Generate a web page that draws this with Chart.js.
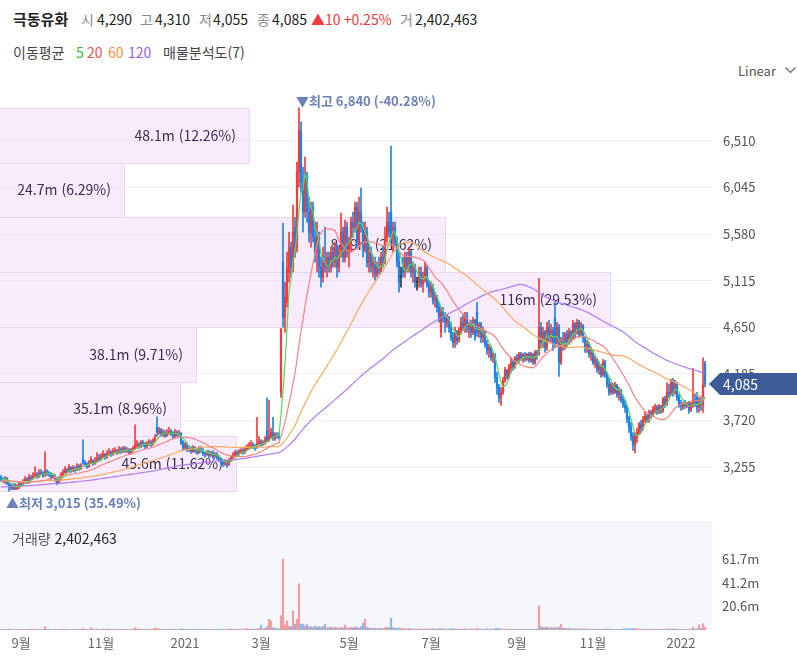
<!DOCTYPE html>
<html lang="ko">
<head>
<meta charset="utf-8">
<title>극동유화 일봉</title>
<script src="https://cdn.jsdelivr.net/npm/chart.js@4.4.1/dist/chart.umd.min.js"></script>
<style>
  html, body { margin: 0; padding: 0; background: #fff; }
  body { position: relative; width: 797px; height: 657px; overflow: hidden;
         font-family: "Noto Sans CJK KR", "Noto Sans", sans-serif; color: #222; }
  canvas { position: absolute; left: 0; }
  .hdr { position: absolute; left: 0; height: 20px; width: 797px; font-size: 14px; line-height: 20px; white-space: nowrap; }
  .hdr span { position: absolute; top: 0; }
  .k { color: #8a8a8a; }
</style>
</head>
<body>
<canvas id="priceChart" width="797" height="428" style="top:90px"></canvas>
<canvas id="volChart" width="797" height="136" style="top:521px"></canvas>

<div class="hdr" style="top:9px">
  <span style="left:13px;font-weight:700;font-size:15px">극동유화</span>
  <span class="k" style="left:81px">시</span><span id="qO" style="left:97px"></span>
  <span class="k" style="left:140px">고</span><span id="qH" style="left:155px"></span>
  <span class="k" style="left:199px">저</span><span id="qL" style="left:213px"></span>
  <span class="k" style="left:257px">종</span><span id="qC" style="left:272px"></span>
  <span id="qChg" style="left:311px;color:#f03c3c"></span>
  <span class="k" style="left:400px">거</span><span id="qV" style="left:415px"></span>
</div>
<div class="hdr" style="top:42px;color:#444">
  <span style="left:13px">이동평균</span>
  <span style="left:76px;color:#3cb83c">5</span>
  <span style="left:87px;color:#f05050">20</span>
  <span style="left:108px;color:#f0903c">60</span>
  <span style="left:128px;color:#9a5cf0">120</span>
  <span style="left:163px">매물분석도(7)</span>
</div>
<div style="position:absolute;left:738px;top:61px;font-size:13px;color:#555;line-height:20px">Linear
  <svg width="11" height="7" style="margin-left:5px;vertical-align:2px"><polyline points="0.5,0.5 5.5,5.5 10.5,0.5" fill="none" stroke="#666" stroke-width="1.2"/></svg>
</div>
<div style="position:absolute;left:12px;top:528px;font-size:14px;line-height:20px">
  <span style="color:#555">거래량</span> <span id="volNow"></span>
</div>

<script>
// 극동유화 일봉 (2020.08 ~ 2022.01), 가격 단위 원, 거래량 단위 백만주

// 차트 시작 이전 종가 (이동평균 계산용)
const prevCloses = [
  2950,2960,2940,2970,2980,2960,2990,3000,2980,2970,
  2950,2960,2980,2990,3010,3000,2990,2970,2960,2980,
  3000,3010,2990,2980,2970,2990,3000,3020,3010,2990,
  2980,2970,2960,2980,2990,3000,3010,3020,3000,2990,
  2980,3000,3010,3020,3030,3010,3000,2990,3000,3010,
  3020,3040,3030,3020,3010,3030,3040,3060,3050,
  3070,3090,3080,3100,3120,3110,3090,3100,3130,3120,
  3110,3100,3090,3110,3130,3140,3120,3110,3100,3090,
  3100,3120,3110,3130,3140,3120,3100,3090,3080,3100,
  3110,3120,3130,3110,3100,3090,3110,3120,3140,3130,
  3120,3110,3100,3090,3110,3120,3130,3110,3100,3120,
  3130,3140,3120,3110,3100,3120,3140,3130,3150,3140
];

const opens = [
  3150,3130,3100,3140,3090,3070,3040,3080,3040,3050,
  3090,3080,3100,3130,3100,3150,3140,3170,3180,3160,
  3200,3190,3170,3210,3200,3180,3150,3170,3130,3100,
  3140,3180,3200,3230,3210,3250,3220,3240,3230,3260,
  3240,3330,3300,3280,3260,3300,3320,3290,3310,3340,
  3330,3360,3380,3350,3390,3400,3380,3410,3420,3400,
  3430,3410,3440,3420,3430,3400,3420,3440,3470,3480,
  3470,3500,3480,3460,3490,3500,3480,3510,3650,3600,
  3620,3580,3600,3570,3600,3610,3590,3560,3600,3580,
  3590,3500,3450,3480,3430,3440,3410,3450,3420,3400,
  3440,3420,3390,3380,3400,3370,3390,3360,3380,3350,
  3330,3300,3290,3310,3280,3320,3350,3370,3400,3380,
  3410,3420,3400,3430,3450,3460,3480,3470,3450,3490,
  3510,3480,3500,3620,3520,3560,3600,3540,3580,3570,
  4000,5300,4750,4900,5200,5450,5250,5650,5450,6200,
  6600,6100,5800,6150,5800,5600,5850,5550,5400,5550,
  5250,5150,5300,5250,5350,5250,5400,5300,5450,5250,
  5400,5600,5350,5650,5400,5500,5700,5650,5850,5500,
  5800,5650,5450,5600,5300,5400,5250,5300,5180,5250,
  5220,5350,5300,5550,5700,5800,5550,5650,5500,5300,
  5150,5250,5200,5350,5250,5400,5200,5250,5100,5100,
  5200,5080,5150,5250,5080,5000,5050,4920,4950,4850,
  4600,4800,4750,4700,4750,4650,4550,4500,4600,4520,
  4620,4700,4650,4760,4640,4680,4600,4720,4800,4600,
  4680,4550,4600,4480,4420,4450,4350,4380,4150,4050,
  3950,4000,4120,4220,4150,4250,4300,4250,4340,4320,
  4380,4340,4370,4330,4380,4320,4380,4300,4400,4380,
  4650,4500,4600,4450,4650,4550,4620,4750,4500,4650,
  4300,4500,4450,4580,4500,4600,4550,4680,4600,4700,
  4580,4660,4540,4440,4480,4380,4400,4300,4330,4230,
  4260,4180,4300,4180,4080,4000,4080,4000,4070,3980,
  4020,3930,3880,3850,3740,3650,3560,3480,3560,3600,
  3680,3640,3730,3760,3720,3800,3770,3830,3850,3800,
  3860,3820,3930,3880,4000,3980,4100,4000,4080,3950,
  3880,3860,3880,3870,3890,3820,3870,3920,3950,3850,
  3900,3880,4290
];

const highs = [
  3170,3150,3160,3150,3100,3080,3090,3090,3080,3110,
  3110,3130,3160,3150,3180,3170,3200,3260,3200,3230,
  3230,3210,3406,3230,3210,3200,3190,3180,3150,3160,
  3200,3230,3260,3240,3280,3260,3270,3260,3290,3280,
  3290,3526,3320,3300,3320,3360,3330,3350,3400,3380,
  3390,3420,3390,3420,3440,3420,3440,3450,3430,3460,
  3450,3460,3460,3450,3440,3440,3460,3676,3520,3500,
  3520,3520,3500,3510,3530,3520,3540,3580,3756,3650,
  3640,3630,3620,3630,3650,3630,3610,3630,3620,3620,
  3600,3520,3500,3500,3470,3460,3470,3460,3440,3460,
  3460,3440,3410,3420,3420,3410,3420,3400,3400,3370,
  3350,3320,3330,3320,3340,3370,3400,3420,3420,3430,
  3440,3440,3460,3480,3500,3520,3500,3480,3750,3560,
  3530,3520,3560,3945,3920,3640,3750,3600,3600,3600,
  4640,5690,5100,5400,5600,5500,5870,5750,6300,6840,
  6700,6250,6350,6200,5950,5900,5900,5700,5700,5600,
  5350,5450,5650,5400,5400,5450,5450,5500,5480,5450,
  5790,5650,5720,5700,5550,5750,5800,5900,5900,5950,
  6040,5700,5700,5650,5450,5450,5350,5350,5300,5350,
  5400,5450,5650,5850,5800,6460,5700,5700,5550,5400,
  5250,5350,5400,5400,5450,5420,5300,5280,5150,5250,
  5250,5200,5300,5270,5120,5100,5080,5000,4970,4900,
  4850,4850,4800,4780,4760,4700,4600,4650,4620,4650,
  4750,4780,4800,4800,4700,4720,4750,4730,4900,4700,
  4700,4650,4620,4520,4480,4460,4400,4390,4200,4080,
  4050,4150,4250,4230,4280,4350,4320,4360,4380,4400,
  4400,4390,4400,4390,4400,4400,4390,4420,4420,5140,
  4700,4650,4620,4700,4720,4680,4650,4900,4700,4680,
  4550,4600,4600,4620,4640,4620,4720,4700,4730,4720,
  4700,4680,4560,4520,4500,4450,4420,4360,4340,4300,
  4280,4330,4320,4200,4150,4100,4090,4100,4080,4050,
  4030,3960,3920,3870,3760,3700,3600,3600,3640,3700,
  3720,3760,3800,3780,3820,3820,3860,3880,3870,3880,
  3870,3950,3960,4095,4080,4130,4140,4120,4100,3980,
  3920,3900,3920,3900,3910,3900,4240,3980,4000,3950,
  3960,4345,4310
];

const lows = [
  3110,3100,3090,3080,3015,3030,3030,3030,3030,3040,
  3060,3070,3090,3090,3090,3120,3130,3150,3140,3150,
  3170,3150,3160,3170,3160,3130,3140,3110,3080,3090,
  3120,3170,3190,3190,3200,3200,3210,3200,3220,3220,
  3230,3280,3260,3240,3250,3290,3270,3280,3300,3310,
  3320,3350,3330,3340,3370,3360,3370,3390,3380,3390,
  3390,3400,3400,3400,3380,3390,3410,3430,3450,3440,
  3450,3460,3440,3450,3470,3460,3470,3500,3560,3580,
  3560,3560,3550,3560,3580,3570,3540,3550,3560,3560,
  3480,3420,3430,3410,3410,3390,3400,3400,3380,3390,
  3400,3370,3350,3370,3350,3360,3340,3350,3330,3310,
  3280,3260,3270,3250,3270,3310,3340,3360,3360,3370,
  3390,3380,3390,3420,3430,3440,3440,3420,3440,3470,
  3460,3470,3480,3500,3510,3540,3520,3520,3540,3530,
  3950,4650,4600,4850,5100,5150,5200,5350,5400,6050,
  6000,5600,5750,5700,5500,5450,5500,5300,5200,5150,
  5050,5100,5200,5150,5200,5200,5250,5250,5150,5200,
  5350,5300,5300,5350,5250,5400,5550,5600,5450,5450,
  5600,5350,5400,5250,5200,5200,5150,5120,5150,5180,
  5200,5250,5280,5500,5550,5500,5400,5450,5250,5000,
  5050,5150,5150,5200,5200,5150,5100,5050,5020,5050,
  5050,5000,5100,5050,4950,4950,4880,4850,4800,4700,
  4550,4700,4600,4650,4600,4520,4450,4450,4480,4500,
  4580,4620,4600,4600,4550,4550,4580,4520,4560,4550,
  4500,4500,4450,4380,4350,4320,4300,4100,3980,3900,
  3870,3980,4100,4130,4140,4200,4220,4240,4300,4300,
  4320,4300,4310,4320,4300,4300,4280,4280,4330,4370,
  4450,4450,4400,4420,4500,4500,4420,4450,4480,4160,
  4280,4420,4430,4450,4480,4500,4530,4550,4580,4550,
  4560,4500,4400,4400,4350,4320,4280,4250,4200,4180,
  4150,4160,4150,4050,3970,3980,3980,3990,3950,3920,
  3900,3850,3800,3700,3600,3520,3420,3396,3500,3580,
  3600,3620,3700,3700,3700,3740,3760,3790,3780,3790,
  3790,3800,3850,3870,3950,3970,3960,3980,3920,3850,
  3820,3830,3840,3850,3790,3810,3850,3860,3800,3800,
  3820,3800,4055
];

const closes = [
  3130,3110,3140,3090,3060,3050,3070,3040,3060,3090,
  3080,3110,3130,3100,3150,3140,3170,3180,3160,3200,
  3190,3170,3210,3200,3180,3150,3170,3130,3100,3140,
  3180,3200,3230,3210,3250,3220,3240,3230,3260,3240,
  3270,3300,3280,3260,3300,3320,3290,3310,3340,3330,
  3360,3380,3350,3390,3400,3380,3410,3420,3400,3430,
  3410,3440,3420,3430,3400,3420,3440,3470,3480,3470,
  3500,3480,3460,3490,3500,3480,3510,3550,3600,3620,
  3580,3600,3570,3600,3610,3590,3560,3600,3580,3590,
  3500,3450,3480,3430,3440,3410,3450,3420,3400,3440,
  3420,3390,3380,3400,3370,3390,3360,3380,3350,3330,
  3300,3290,3310,3280,3320,3350,3370,3400,3380,3410,
  3420,3400,3430,3450,3460,3480,3470,3450,3490,3510,
  3480,3500,3530,3520,3560,3600,3540,3580,3570,3560,
  4630,4750,4950,5250,5450,5250,5600,5450,6200,6620,
  6100,5800,6200,5800,5600,5850,5550,5400,5550,5250,
  5150,5300,5250,5350,5250,5400,5300,5450,5250,5400,
  5600,5350,5650,5400,5500,5700,5650,5850,5500,5800,
  5650,5450,5600,5300,5400,5250,5300,5180,5250,5220,
  5350,5300,5550,5700,5600,5550,5650,5500,5300,5100,
  5150,5200,5350,5250,5400,5200,5250,5100,5100,5200,
  5080,5150,5250,5080,5000,5050,4920,4950,4850,4750,
  4800,4750,4700,4750,4650,4550,4500,4600,4520,4620,
  4700,4650,4760,4640,4680,4600,4720,4560,4600,4680,
  4550,4600,4480,4420,4450,4350,4380,4150,4050,3950,
  4000,4120,4220,4150,4250,4300,4250,4340,4320,4380,
  4340,4370,4330,4380,4320,4380,4300,4400,4370,4650,
  4500,4600,4450,4650,4550,4620,4480,4500,4650,4300,
  4500,4450,4580,4500,4600,4550,4680,4600,4700,4580,
  4660,4540,4440,4480,4380,4400,4300,4330,4230,4260,
  4180,4300,4180,4080,4000,4080,4000,4070,3980,4020,
  3930,3880,3850,3740,3650,3560,3480,3560,3600,3680,
  3640,3730,3760,3720,3800,3770,3830,3850,3800,3860,
  3820,3930,3880,4000,3980,4100,4000,4080,3950,3880,
  3860,3880,3870,3890,3820,3880,3920,3900,3850,3900,
  3880,4075,4085
];

// 거래량 (백만주)
const volumes = [
  .5,.4,.6,.5,.7,.5,.4,.5,.6,.4,
  .5,.6,.4,.5,.7,.5,.6,.8,.5,.6,
  .5,.6,2.9,.8,.5,.4,.5,.6,.5,.4,
  .6,.5,.7,.5,.6,.4,.5,.6,.7,.5,
  .6,1.2,.7,.5,.6,2.0,.8,.6,.7,.5,
  .6,.7,.5,.6,.8,.5,.6,.7,.5,.6,
  .5,.7,.6,.5,.4,.6,.7,2.0,.9,.6,
  .7,.5,.6,.8,.6,.5,.7,1.5,1.2,.9,
  .6,.7,.5,.6,.8,.5,.6,.7,.5,.6,
  1.0,.8,.6,.7,.5,.6,.7,.5,.6,.7,
  .5,.6,.5,.4,.6,.5,.4,.5,.6,.5,
  .7,.6,.5,.6,.7,.8,.6,.7,.5,.6,
  .7,.6,.8,1.2,.7,.9,.8,.7,1.1,1.3,
  4.4,1.0,1.5,3.0,9.3,7.9,2.0,1.4,1.2,1.0,
  12.5,61.74,4.5,7.9,3.2,2.8,16.6,5.0,9.3,40.0,
  5.0,5.2,3.5,4.8,2.6,3.0,2.2,3.4,2.5,2.9,
  2.4,3.0,5.0,2.2,2.0,2.6,1.8,2.4,2.0,1.6,
  2.5,1.8,4.4,2.0,1.7,2.3,1.9,2.6,2.2,1.8,
  3.0,5.8,9.3,2.4,1.8,1.6,1.4,1.5,1.2,1.3,
  1.4,1.2,2.0,2.4,1.8,10.2,2.2,1.6,1.4,1.8,
  1.2,1.0,1.1,.9,1.4,1.0,.8,.9,.7,.8,
  .9,.7,1.0,.8,.7,.9,1.2,.8,1.0,.9,
  1.3,.9,.8,.7,.8,1.0,1.1,.9,.7,.8,
  .9,.7,1.0,.8,.7,.8,.9,.7,1.4,.8,
  .7,.6,.8,.9,.7,.8,.6,1.2,1.4,1.1,
  .9,.8,.7,.6,.7,.8,.6,.7,.5,.6,
  .5,.6,.5,.7,.6,.5,.6,.7,.8,21.0,
  3.0,2.4,2.0,2.6,1.8,2.2,1.6,2.4,1.8,2.6,
  5.0,1.6,1.4,1.2,1.3,1.0,1.2,.9,1.0,.8,
  .9,.8,.9,.7,.8,.6,.7,.6,.7,.5,
  .6,.7,.6,.8,.9,.6,.5,.6,.7,.6,
  .7,.8,.9,1.1,1.2,1.0,1.3,1.2,.9,.8,
  .7,.6,.7,.5,.6,.5,.6,.7,.5,.6,
  .5,.7,.6,1.0,.8,.9,1.1,.8,.7,.6,
  .5,.6,.5,.6,.7,.6,2.2,.9,1.0,4.4,
  1.2,5.3,2.402463
];

// 매물분석도: 아래 구간부터 위로 (거래량 백만주, 비율 %)
const profileVol = [45.6, 35.1, 38.1, 116, 84.9, 24.7, 48.1];
const profilePct = [11.62, 8.96, 9.71, 29.53, 21.62, 6.29, 12.26];

const maPeriods = [5, 20, 60, 120];
const maColors = ['#5fd35f', '#f58383', '#f6aa62', '#b27bf3'];

const priceTicks = [3255, 3720, 4185, 4650, 5115, 5580, 6045, 6510];
const volTicks = [20.58, 41.16, 61.74];
const monthTickIdx = [10, 50, 92, 130, 174, 215, 258, 296, 340];
const monthTickLabels = ['9월', '11월', '2021', '3월', '5월', '7월', '9월', '11월', '2022'];

Chart.defaults.font.family = '"Noto Sans CJK KR", "Noto Sans", sans-serif';
Chart.defaults.color = '#555';

const last = closes.length - 1;
const slotLabels = Array.from({ length: closes.length + 3 }, (_, i) => i); // 오른쪽 여백 3칸

const UP = '#f23c3c', DOWN = '#1c84e6', FLAT = '#333';
const candleColors = closes.map((c, i) => c > opens[i] ? UP : (c < opens[i] ? DOWN : FLAT));
const volColors = volumes.map((v, i) => {
    const ref = i > 0 ? closes[i - 1] : opens[0];
    return closes[i] >= ref ? 'rgba(242,96,96,0.6)' : 'rgba(52,138,232,0.55)';
});

function movingAvg(n) {
    const all = prevCloses.concat(closes);
    return closes.map((_, i) => {
        const j = i + prevCloses.length;
        let s = 0;
        for (let k = j - n + 1; k <= j; k++) s += all[k];
        return s / n;
    });
}

const fmt = v => v.toLocaleString('en-US');

// 헤더 시세
const prevClose = closes[last - 1];
const chg = closes[last] - prevClose;
document.getElementById('qO').textContent = fmt(opens[last]);
document.getElementById('qH').textContent = fmt(highs[last]);
document.getElementById('qL').textContent = fmt(lows[last]);
document.getElementById('qC').textContent = fmt(closes[last]);
document.getElementById('qChg').textContent = '▲' + chg + ' +' + (chg / prevClose * 100).toFixed(2) + '%';
const volNowText = fmt(Math.round(volumes[last] * 1e6));
document.getElementById('qV').textContent = volNowText;
document.getElementById('volNow').textContent = volNowText;

// 매물분석도 막대 (캔들 뒤)
const profilePlugin = {
    id: 'profile',
    beforeDatasetsDraw(chart) {
        const { ctx, scales: { y, xp } } = chart;
        const lo = Math.min(...lows), hi = Math.max(...highs);
        const step = (hi - lo) / profileVol.length;
        ctx.save();
        profileVol.forEach((v, k) => {
            const top = Math.round(y.getPixelForValue(lo + (k + 1) * step));
            const bot = Math.round(y.getPixelForValue(lo + k * step));
            const left = xp.getPixelForValue(0);
            const right = Math.round(xp.getPixelForValue(v));
            ctx.fillStyle = 'rgba(243,226,251,0.7)';
            ctx.fillRect(left, top, right - left, bot - top);
            ctx.strokeStyle = '#e9d8f2';
            ctx.lineWidth = 1;
            ctx.strokeRect(left + 0.5, top + 0.5, right - left, bot - top);
            ctx.fillStyle = '#3b2d4f';
            ctx.font = '14px "Noto Sans CJK KR"';
            ctx.textAlign = 'right';
            ctx.textBaseline = 'middle';
            ctx.fillText(v + 'm (' + profilePct[k].toFixed(2) + '%)', right - 13, (top + bot) / 2);
        });
        ctx.restore();
    }
};

// 최고/최저 표시
const extremesPlugin = {
    id: 'extremes',
    afterDatasetsDraw(chart) {
        const { ctx, scales: { x, y } } = chart;
        const hi = Math.max(...highs), lo = Math.min(...lows);
        const hiIdx = highs.indexOf(hi), loIdx = lows.indexOf(lo);
        const now = closes[last];
        ctx.save();
        ctx.font = 'bold 13px "Noto Sans CJK KR"';
        ctx.fillStyle = '#6c80b8';
        ctx.textAlign = 'left';
        ctx.textBaseline = 'middle';
        ctx.fillText('▼최고 ' + fmt(hi) + ' (' + ((now - hi) / hi * 100).toFixed(2) + '%)',
            x.getPixelForValue(hiIdx) - 3, y.getPixelForValue(hi) - 7);
        ctx.fillText('▲최저 ' + fmt(lo) + ' (' + ((now - lo) / lo * 100).toFixed(2) + '%)',
            Math.max(4, x.getPixelForValue(loIdx) - 3), y.getPixelForValue(lo) + 12);
        ctx.restore();
    }
};

// 현재가 라벨
const lastPricePlugin = {
    id: 'lastPrice',
    afterDraw(chart) {
        const { ctx, chartArea, scales: { y } } = chart;
        const yy = Math.round(y.getPixelForValue(closes[last]));
        const x0 = chartArea.right - 3;
        ctx.save();
        ctx.fillStyle = '#3e5b99';
        ctx.beginPath();
        ctx.moveTo(x0, yy);
        ctx.lineTo(x0 + 11, yy - 11);
        ctx.lineTo(chart.width, yy - 11);
        ctx.lineTo(chart.width, yy + 11);
        ctx.lineTo(x0 + 11, yy + 11);
        ctx.closePath();
        ctx.fill();
        ctx.fillStyle = '#fff';
        ctx.font = '14px "Noto Sans CJK KR"';
        ctx.textBaseline = 'middle';
        ctx.fillText(fmt(closes[last]), x0 + 14, yy + 1);
        ctx.restore();
    }
};

const volBgPlugin = {
    id: 'volBg',
    beforeDraw(chart) {
        const { ctx, chartArea: a } = chart;
        ctx.save();
        ctx.fillStyle = '#f6f7fd';
        ctx.fillRect(a.left, a.top, a.right - a.left, a.bottom - a.top);
        ctx.restore();
    }
};

const priceChart = new Chart(document.getElementById('priceChart'), {
    type: 'bar',
    data: {
        labels: slotLabels,
        datasets: [
            ...maPeriods.map((n, k) => ({
                type: 'line', data: movingAvg(n), borderColor: maColors[k], borderWidth: 1.2,
                pointRadius: 0, xAxisID: 'x', yAxisID: 'y', order: 0
            })),
            {
                data: lows.map((l, i) => [l, highs[i]]), backgroundColor: candleColors,
                barThickness: 1, grouped: false, xAxisID: 'x', yAxisID: 'y', order: 2
            },
            {
                data: opens.map((o, i) => [o, closes[i]]), backgroundColor: candleColors,
                barThickness: 1.6, minBarLength: 1, grouped: false, xAxisID: 'x', yAxisID: 'y', order: 1
            }
        ]
    },
    options: {
        responsive: false,
        animation: false,
        layout: { padding: 0 },
        plugins: { legend: { display: false }, tooltip: { enabled: false } },
        scales: {
            x: { type: 'category', offset: true, display: false },
            // 매물분석도 막대 길이용 축
            xp: { type: 'linear', axis: 'x', display: false, offset: false, bounds: 'data', min: 1.3, max: 135.2 },
            y: {
                position: 'right', min: 2746, max: 7019,
                afterBuildTicks: s => { s.ticks = priceTicks.map(v => ({ value: v })); },
                afterFit: s => { s.width = 85; s.paddingTop = 0; s.paddingBottom = 0; },
                grid: { color: '#eef0f6', drawTicks: false },
                border: { display: false },
                ticks: { padding: 11, font: { size: 13 }, color: '#555', callback: v => fmt(v) }
            }
        }
    },
    plugins: [profilePlugin, extremesPlugin, lastPricePlugin]
});

const volChart = new Chart(document.getElementById('volChart'), {
    type: 'bar',
    data: {
        labels: slotLabels,
        datasets: [{ data: volumes, backgroundColor: volColors, barThickness: 1.5 }]
    },
    options: {
        responsive: false,
        animation: false,
        layout: { padding: 0 },
        plugins: { legend: { display: false }, tooltip: { enabled: false } },
        scales: {
            x: {
                type: 'category', offset: true,
                grid: { display: false, drawTicks: false },
                border: { display: false },
                afterBuildTicks: s => { s.ticks = monthTickIdx.map(v => ({ value: v })); },
                afterFit: s => { s.height = 27; s.paddingLeft = 0; s.paddingRight = 0; },
                ticks: {
                    autoSkip: false, maxRotation: 0, padding: 5, font: { size: 13 }, color: '#666',
                    callback: v => monthTickLabels[monthTickIdx.indexOf(v)]
                }
            },
            y: {
                position: 'right', min: 0, max: 94.8,
                afterBuildTicks: s => { s.ticks = volTicks.map(v => ({ value: v })); },
                afterFit: s => { s.width = 85; s.paddingTop = 0; s.paddingBottom = 0; },
                grid: { display: false, drawTicks: false },
                border: { display: false },
                ticks: { padding: 10, font: { size: 13 }, color: '#555', callback: v => v.toFixed(1) + 'm' }
            }
        }
    },
    plugins: [volBgPlugin]
});
</script>
</body>
</html>
